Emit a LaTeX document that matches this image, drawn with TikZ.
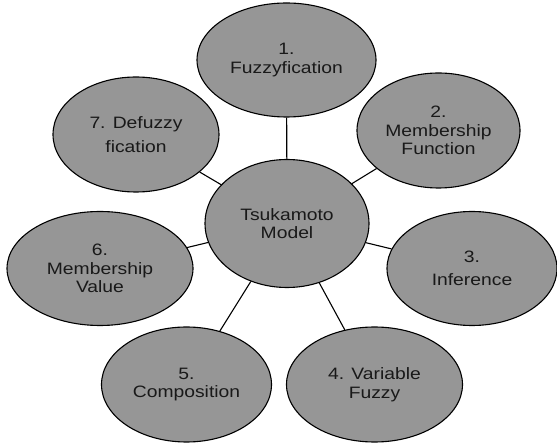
\documentclass[tikz,border=0pt]{standalone}
\usepackage{fontspec}
\setmainfont{Liberation Sans}[FakeStretch=1.17]
\usetikzlibrary{shapes.geometric}
\definecolor{bubble}{RGB}{150,150,150}
\definecolor{ink}{RGB}{25,25,25}
\begin{document}
\begin{tikzpicture}[x=1pt,y=-1pt,
  bubble/.style={ellipse, draw=black, line width=1.1pt, fill=bubble, inner sep=0pt,
    text=ink, align=center, font=\fontsize{16.5}{18.5}\selectfont},
  link/.style={draw=black, line width=1.1pt}]
\useasboundingbox (0,0) rectangle (557,443);
\node[bubble, minimum width=164pt, minimum height=128pt] (m) at (287,223.5) {Tsukamoto\\Model};
\node[bubble, minimum width=179pt, minimum height=114pt] (n1) at (286.5,60) {1.\\Fuzzyfication};
\node[bubble, minimum width=163pt, minimum height=115pt] (n2) at (438.5,130.5) {2.\\Membership\\Function};
\node[bubble, minimum width=170pt, minimum height=114pt] (n3) at (472,268.5) {3.\\[5pt]Inference};
\node[bubble, minimum width=176pt, minimum height=115pt] (n4) at (374.5,384.5) {4. Variable\\Fuzzy};
\node[bubble, minimum width=170pt, minimum height=115pt] (n5) at (186.5,384.5) {5.\\Composition};
\node[bubble, minimum width=186pt, minimum height=114pt] (n6) at (100,268.5) {6.\\Membership\\Value};
\node[bubble, minimum width=166pt, minimum height=115pt] (n7) at (136,134.5) {7. Defuzzy\\[6pt]fication};
\foreach \n in {n1,n2,n3,n4,n5,n6,n7} \path[link] (m) -- (\n);
\end{tikzpicture}
\end{document}
